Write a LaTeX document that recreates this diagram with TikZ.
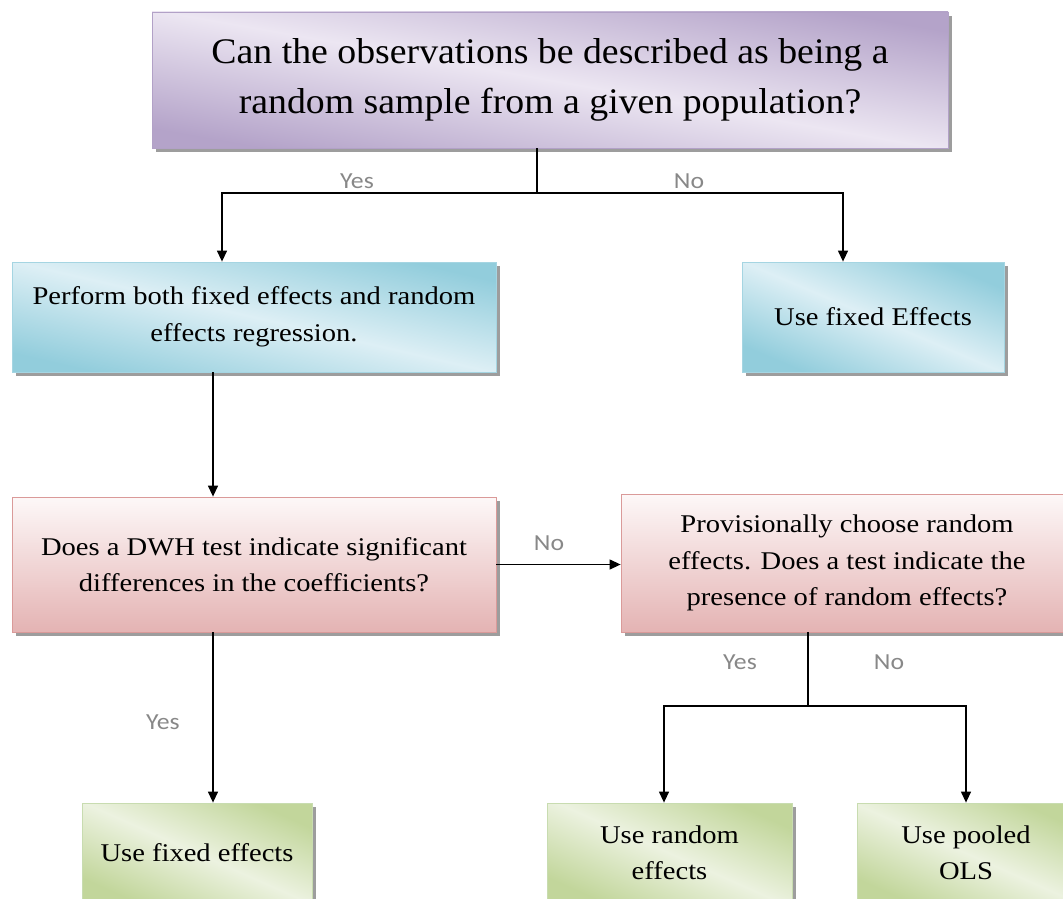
\documentclass[tikz,border=0pt]{standalone}
\usepackage{fontspec}
\setmainfont{Liberation Serif}
\newfontfamily\boxfont{Liberation Serif}[FakeStretch=1.12]
\newfontfamily\topfont{Liberation Serif}[FakeStretch=1.05]
\newfontfamily\lblfont{Carlito}[FakeStretch=1.12]
\usetikzlibrary{arrows.meta,shadows}
\definecolor{purpdark}{HTML}{B4A3C9}
\definecolor{purplight}{HTML}{ECE6F2}
\definecolor{purpline}{HTML}{B2A1C7}
\definecolor{bluedark}{HTML}{92CDDC}
\definecolor{bluelight}{HTML}{DDEFF5}
\definecolor{blueline}{HTML}{A5D5E2}
\definecolor{redtop}{HTML}{FDF8F8}
\definecolor{redbottom}{HTML}{E4B3B3}
\definecolor{redline}{HTML}{DA9A99}
\definecolor{greendark}{HTML}{C2D69B}
\definecolor{greenlight}{HTML}{ECF2E0}
\definecolor{greenline}{HTML}{C8DCB0}
\definecolor{lblgray}{HTML}{888888}
\begin{document}
\begin{tikzpicture}[x=1pt, y=-1pt,
    box/.style={draw, line width=0.8pt, align=center, inner sep=0pt,
        font=\boxfont\fontsize{25.5}{36.5}\selectfont,
        drop shadow={shadow xshift=4pt, shadow yshift=-4pt, fill=black!45, opacity=0.85}},
    purplebox/.style={box, draw=purpline, top color=purpdark, bottom color=purpdark,
        middle color=purplight, shading angle=#1},
    purplebox/.default=-10,
    bluebox/.style={box, draw=blueline, top color=bluedark, bottom color=bluedark,
        middle color=bluelight, shading angle=#1},
    bluebox/.default=-13,
    redbox/.style={box, draw=redline, top color=redtop, bottom color=redbottom},
    greenbox/.style={box, draw=greenline, top color=greendark, bottom color=greendark,
        middle color=greenlight, shading angle=#1},
    greenbox/.default=-24,
    lbl/.style={font=\lblfont\fontsize{23}{26}\selectfont, text=lblgray, inner sep=0pt},
    arr/.style={-{Triangle[length=11pt,width=10pt]}},
    line width=1.3pt]
\clip (0,0) rectangle (1063,899);

% question boxes
\node[purplebox, minimum width=796pt, minimum height=136pt,
    font=\topfont\fontsize{36}{50}\selectfont] (q1) at (550,80)
    {Can the observations be described as being a\\random sample from a given population?};
\node[bluebox, minimum width=484pt, minimum height=110pt] (fere) at (254,317)
    {Perform both fixed effects and random\\effects regression.};
\node[bluebox=-23, minimum width=262pt, minimum height=110pt] (usefe) at (873,317)
    {Use fixed Effects};
\node[redbox, minimum width=484pt, minimum height=135pt] (dwh) at (254,564.5)
    {Does a DWH test indicate significant\\differences in the coefficients?};
\node[redbox, minimum width=452pt, minimum height=138pt] (prov) at (847,563)
    {Provisionally choose random\\effects. Does a test indicate the\\presence of random effects?};

% outcomes
\node[greenbox, minimum width=230pt, minimum height=100pt] (fixed) at (197,853)
    {Use fixed effects};
\node[greenbox, minimum width=245pt, minimum height=100pt] (random) at (669.5,853)
    {Use random\\effects};
\node[greenbox, minimum width=218pt, minimum height=100pt] (pooled) at (966,853)
    {Use pooled\\OLS};

% connectors
\coordinate (j1) at (537,193);
\coordinate (j2) at (808,706);
\draw (q1.south -| j1) -- (j1);
\draw[arr] (j1) -| ([xshift=-32pt]fere.north);
\draw[arr] (j1) -| ([xshift=-30pt]usefe.north);
\draw[arr] ([xshift=-41pt]fere.south) -- ([xshift=-41pt]dwh.north);
\draw[arr] (dwh.east) -- (dwh.east -| prov.west);
\draw[arr] ([xshift=-41pt]dwh.south) -- ([xshift=-41pt]dwh.south |- fixed.north);
\draw (prov.south -| j2) -- (j2);
\draw[arr] (j2) -| ([xshift=-5.5pt]random.north);
\draw[arr] (j2) -| (pooled.north);

% labels
\node[lbl] (yes1) at (357,181) {Yes};
\node[lbl] (no1) at (689,181) {No};
\node[lbl] (no2) at (549,543) {No};
\node[lbl] (yes2) at (163,722) {Yes};
\node[lbl] (yes3) at (740,662) {Yes};
\node[lbl] (no3) at (889,662) {No};
\end{tikzpicture}
\end{document}
